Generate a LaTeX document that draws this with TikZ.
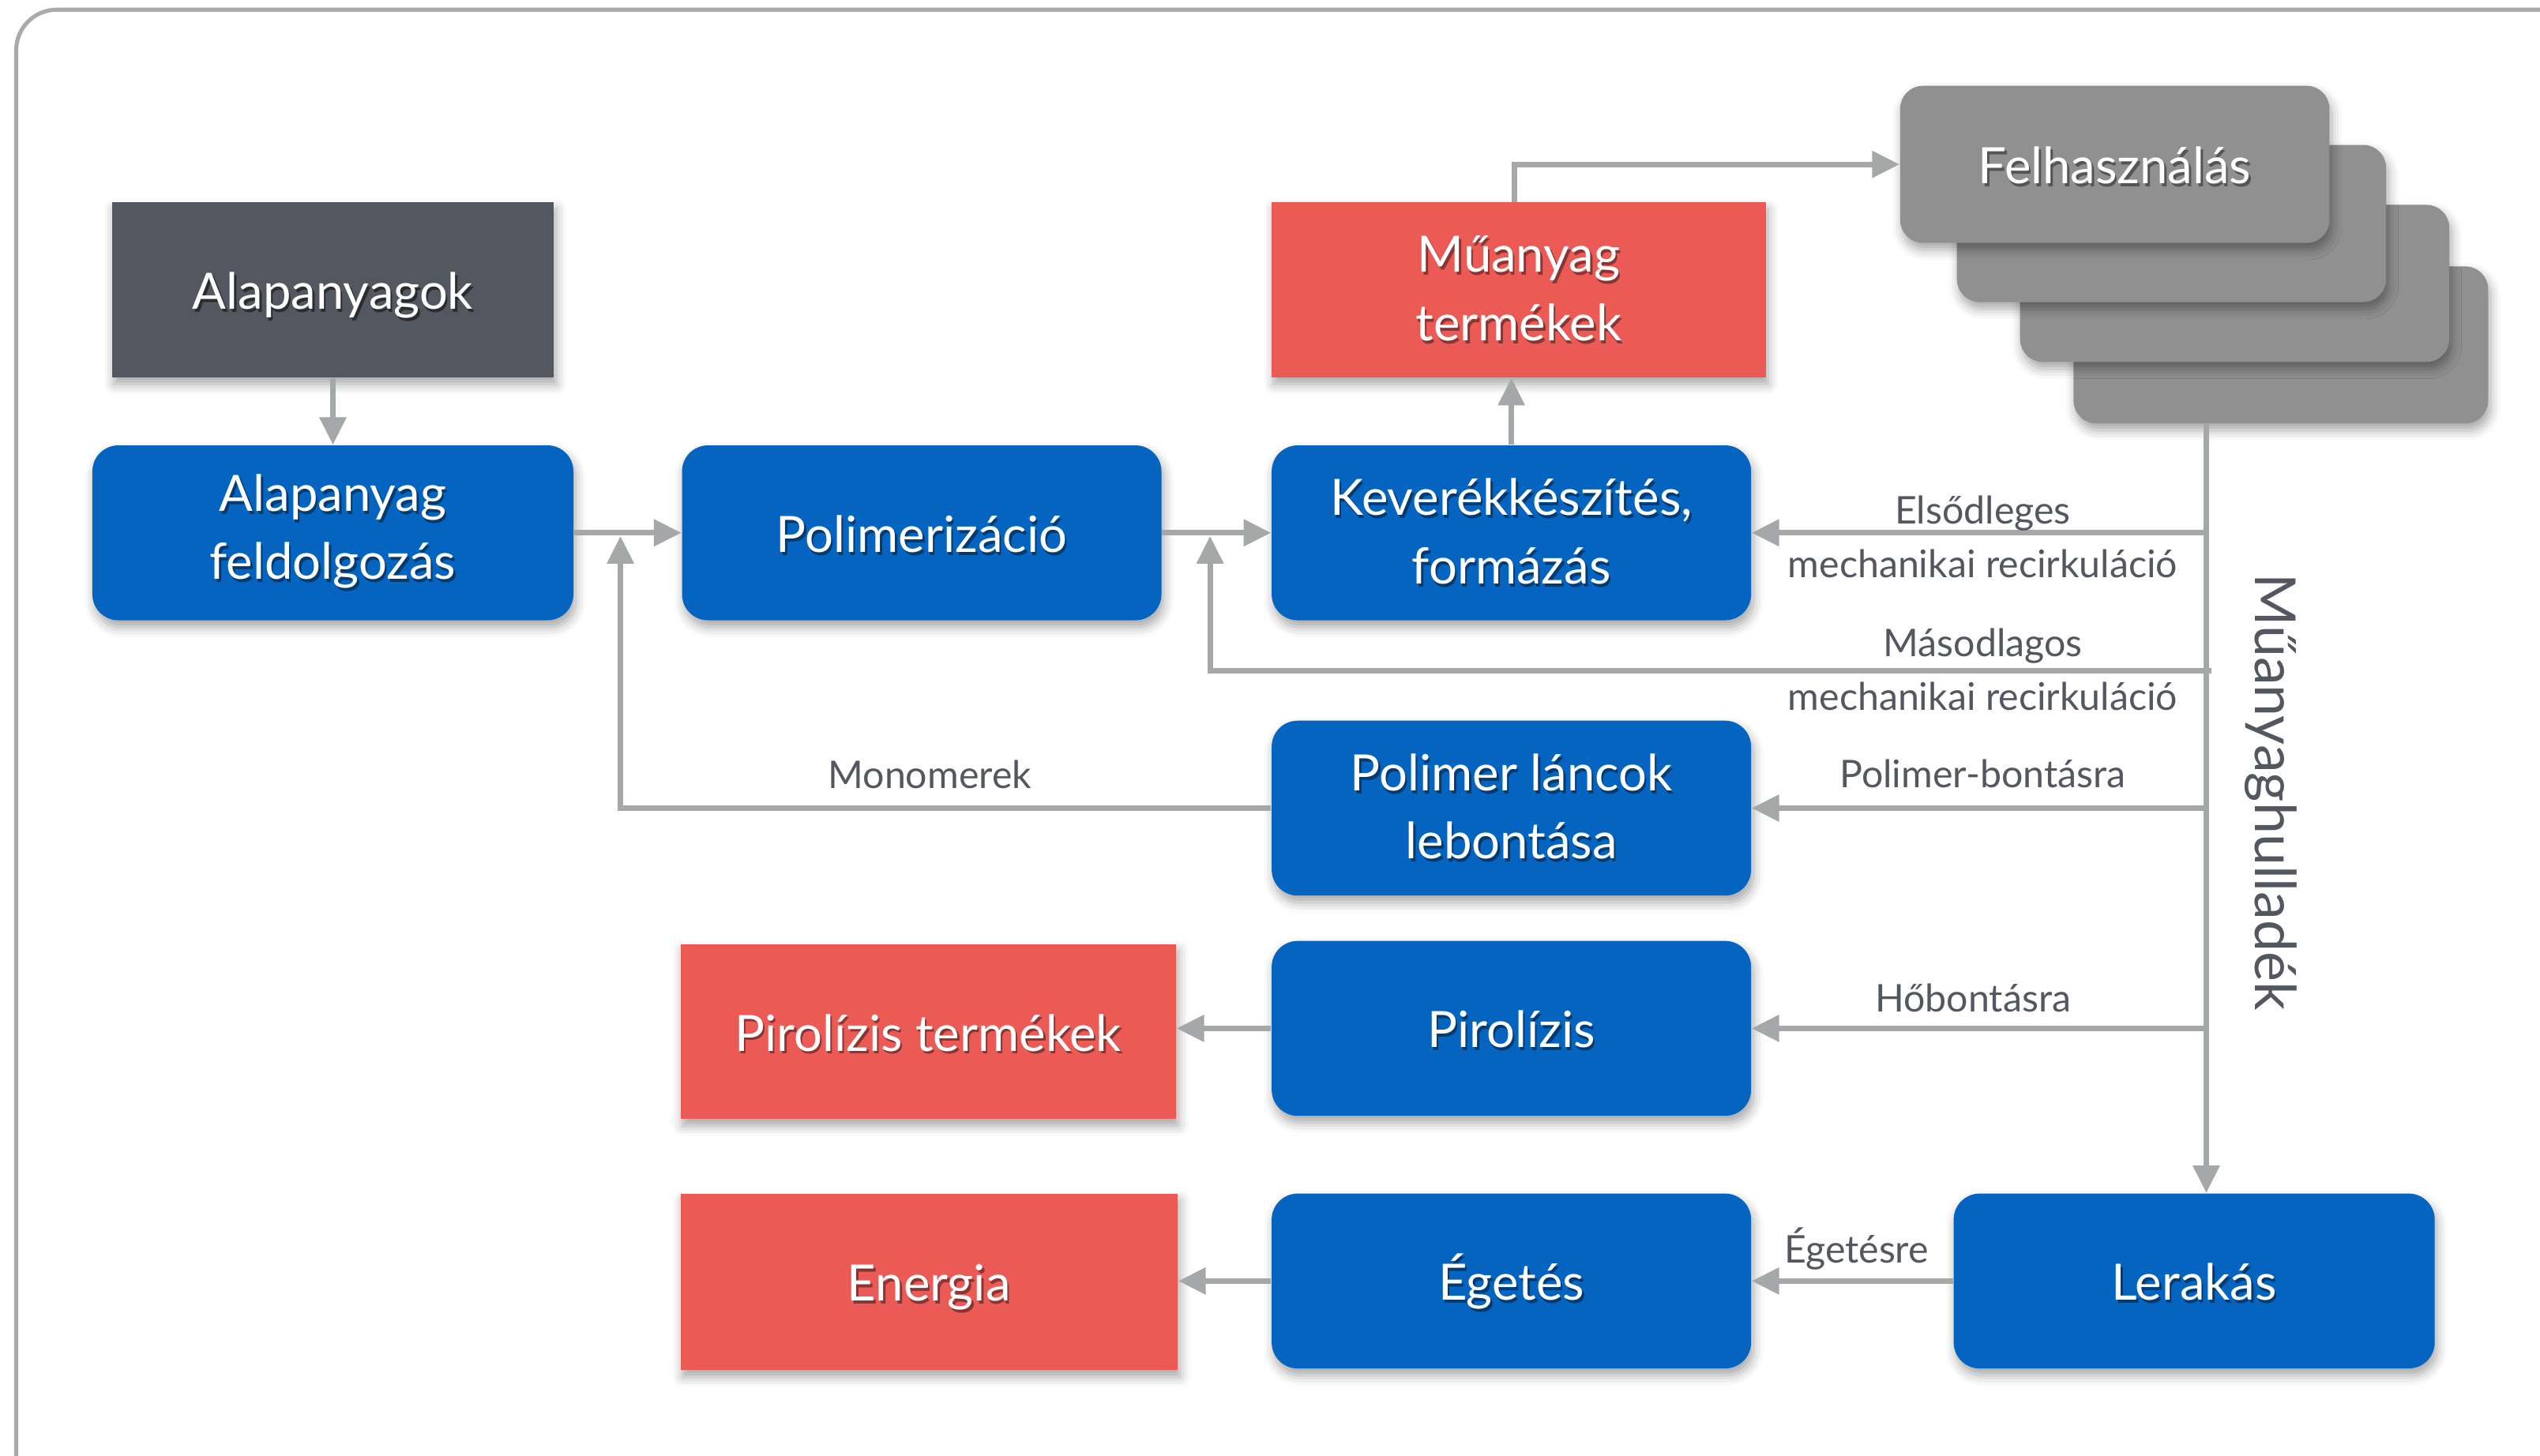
\documentclass[tikz,border=0pt]{standalone}
\usepackage{fontspec}
\setmainfont{Lato}
\usetikzlibrary{arrows.meta,shadows.blur,calc}
\definecolor{boxblue}{HTML}{0564C0}
\definecolor{boxred}{HTML}{EB5A55}
\definecolor{boxdark}{HTML}{53575F}
\definecolor{boxgray}{HTML}{909090}
\definecolor{linegray}{HTML}{A5A8A8}
\definecolor{labelgray}{HTML}{53575F}
\definecolor{framegray}{HTML}{A8ABAB}
\definecolor{blueshade}{HTML}{033A70}
\definecolor{redshade}{HTML}{8A3532}
\definecolor{darkshade}{HTML}{2A2C30}
\definecolor{grayshade}{HTML}{555555}
\newcommand\shd[1]{\leavevmode\rlap{\kern0.7pt\raisebox{-1.1pt}{\textcolor{\shc}{#1}}}#1}
\def\shc{blueshade}
\tikzset{
  basebox/.style={text=white, font=\fontsize{17.6pt}{24pt}\selectfont, align=center, inner sep=0pt,
    blur shadow={shadow xshift=0.8pt, shadow yshift=-2.4pt, shadow blur radius=3.5pt, shadow opacity=35}},
  oneline/.style={text height=13.6pt, text depth=0pt},
  bluebox/.style={basebox, fill=boxblue, rounded corners=0.32cm, minimum width=5.92cm, minimum height=2.16cm,
    execute at begin node={\def\shc{blueshade}}},
  redbox/.style={basebox, fill=boxred, minimum height=2.16cm, execute at begin node={\def\shc{redshade}}},
  darkbox/.style={basebox, fill=boxdark, minimum height=2.16cm, execute at begin node={\def\shc{darkshade}}},
  graybox/.style={basebox, fill=boxgray, rounded corners=0.28cm, minimum width=5.3cm, minimum height=1.94cm,
    execute at begin node={\def\shc{grayshade}}},
  arr/.style={draw=linegray, line width=0.068cm, -{Triangle[length=0.34cm, width=0.32cm]}},
  lbl/.style={text=labelgray, font=\fontsize{13.4pt}{15pt}\selectfont, inner sep=0pt},
}
\begin{document}
\begin{tikzpicture}[x=0.02cm, y=-0.02cm]
\useasboundingbox (0,0) rectangle (1568,899);
\begin{scope}
\clip (0,0) rectangle (1568,899);
\draw[framegray, line width=0.05cm, rounded corners=0.5cm] (10,6) rectangle (1640,960);
\end{scope}

% Felhasznalas stack
\node[graybox, minimum width=5.12cm] (f4) at (1408,213) {};
\node[graybox] (f3) at (1379.5,175) {};
\node[graybox] (f2) at (1340.5,138) {};
\node[graybox, oneline] (f1) at (1305.5,101.5) {\shd{Felhasználás}};

\node[darkbox, oneline, minimum width=5.46cm] (alap) at (205.5,179) {\shd{Alapanyagok}};
\node[redbox, minimum width=6.1cm] (muany) at (937.5,179) {\shd{Műanyag}\\\shd{termékek}};

\node[bluebox, minimum width=5.94cm] (feld) at (205.5,329) {\shd{Alapanyag}\\\shd{feldolgozás}};
\node[bluebox, oneline] (poli) at (569,329) {\shd{Polimerizáció}};
\node[bluebox] (kever) at (933,329) {\shd{Keverékkészítés,}\\\shd{formázás}};
\node[bluebox] (lanc) at (933,499) {\shd{Polimer láncok}\\\shd{lebontása}};
\node[bluebox, oneline] (piro) at (933,635) {\shd{Pirolízis}};
\node[redbox, oneline, minimum width=6.12cm] (pirot) at (573,637) {\shd{Pirolízis termékek}};
\node[bluebox, oneline] (eget) at (933,791) {\shd{Égetés}};
\node[redbox, oneline, minimum width=6.14cm, minimum height=2.18cm] (energ) at (573.5,791.5) {\shd{Energia}};
\node[bluebox, oneline, minimum width=5.94cm] (lerak) at (1354.5,791) {\shd{Lerakás}};

\coordinate (trk) at (1362,0);
\coordinate (j1) at (383,331);
\coordinate (j2) at (747,331);
\coordinate (sec) at (1365,414);

\draw[arr] (alap) -- (feld);
\draw[arr] (feld) -- (poli);
\draw[arr] (poli) -- (kever);
\draw[arr] (kever.north) -- (kever.north |- muany.south);
\draw[arr] ([xshift=-0.05cm]muany.north) |- (f1.west);
\draw[arr] (trk |- f4.south) -- (trk |- lerak.north);
\draw[arr] (trk |- kever.east) -- (kever.east);
\draw[arr] (sec) -| (j2);
\draw[arr] (trk |- lanc.east) -- (lanc.east);
\draw[arr] (lanc.west) -| (j1);
\draw[arr] (trk |- piro.east) -- (piro.east);
\draw[arr] (piro.west) -- (piro.west -| pirot.east);
\draw[arr] (eget.west) -- (eget.west -| energ.east);
\draw[arr] (lerak) -- (eget);

\node[lbl] (l1) at (1224,317) {Elsődleges};
\node[lbl] (l2) at (1224,348) {mechanikai recirkuláció};
\node[lbl] (l3) at (1224,399) {Másodlagos};
\node[lbl] (l4) at (1224,430) {mechanikai recirkuláció};
\node[lbl] (l5) at (1224,478) {Polimer-bontásra};
\node[lbl] (l6) at (574,478) {Monomerek};
\node[lbl] (l7) at (1218,616) {Hőbontásra};
\node[lbl] (l8) at (1146,771) {Égetésre};
\node[lbl, font=\fontsize{19.9pt}{22pt}\selectfont, rotate=-90] (hull) at (1402,489) {Műanyaghulladék};
\end{tikzpicture}
\end{document}
